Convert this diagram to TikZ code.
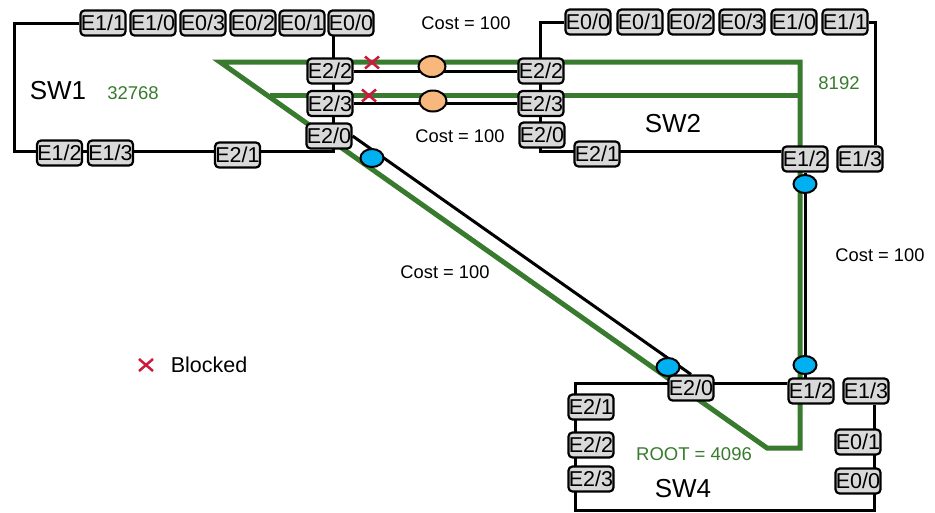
\documentclass[tikz,border=0pt]{standalone}
\usepackage{fontspec}
\setmainfont{Liberation Sans}
\usetikzlibrary{shapes.geometric,backgrounds}
\definecolor{stpgreen}{RGB}{56,122,46}
\definecolor{portfill}{RGB}{217,217,217}
\definecolor{bluedot}{RGB}{0,176,240}
\definecolor{orangedot}{RGB}{248,183,125}
\definecolor{blockred}{RGB}{205,25,60}
\begin{document}
\begin{tikzpicture}[x=1pt,y=-1pt,
  port/.style={draw=black, line width=2.2pt, fill=portfill, rounded corners=4pt,
    minimum width=45pt, minimum height=25pt, inner sep=0pt,
    font=\fontsize{21.5}{21.5}\selectfont},
  wire/.style={line width=3pt, draw=black},
  stp/.style={line width=5pt, draw=stpgreen},
  bdot/.style={ellipse, draw=black, line width=2pt, fill=bluedot,
    minimum width=23pt, minimum height=18pt, inner sep=0pt},
  odot/.style={ellipse, draw=black, line width=2pt, fill=orangedot,
    minimum width=27pt, minimum height=21pt, inner sep=0pt},
  swlabel/.style={font=\fontsize{26}{26}\selectfont},
  costlabel/.style={font=\fontsize{18.3}{18.3}\selectfont},
  prio/.style={text=stpgreen, font=\fontsize{18.5}{18.5}\selectfont},
  redx/.pic={\draw[blockred, line width=2.5pt] (-7,-6) -- (7,6) (-7,6) -- (7,-6);}
]
\useasboundingbox (0,0) rectangle (935,512);

% ---------- ports: SW1 ----------
\node[port] (s1e11) at (103,23) {E1/1};
\node[port] (s1e10) at (153,23) {E1/0};
\node[port] (s1e03) at (203,23) {E0/3};
\node[port] (s1e02) at (253,23) {E0/2};
\node[port] (s1e01) at (302,23) {E0/1};
\node[port] (s1e00) at (351,23) {E0/0};
\node[port] (s1e22) at (330,71) {E2/2};
\node[port] (s1e23) at (330,103.5) {E2/3};
\node[port] (s1e20) at (329,136) {E2/0};
\node[port] (s1e12) at (59.5,153) {E1/2};
\node[port] (s1e13) at (110.5,153) {E1/3};
\node[port] (s1e21) at (237.5,155) {E2/1};

% ---------- ports: SW2 ----------
\node[port] (s2e00) at (588,22) {E0/0};
\node[port] (s2e01) at (640,22) {E0/1};
\node[port] (s2e02) at (691,22) {E0/2};
\node[port] (s2e03) at (742,22) {E0/3};
\node[port] (s2e10) at (794,22) {E1/0};
\node[port] (s2e11) at (845,22) {E1/1};
\node[port] (s2e22) at (541,71) {E2/2};
\node[port] (s2e23) at (541,103.5) {E2/3};
\node[port] (s2e20) at (542,135) {E2/0};
\node[port] (s2e21) at (597,154) {E2/1};
\node[port] (s2e12) at (805,159) {E1/2};
\node[port] (s2e13) at (860,159) {E1/3};

% ---------- ports: SW4 ----------
\node[port] (s4e20) at (691,388) {E2/0};
\node[port] (s4e12) at (811,391) {E1/2};
\node[port] (s4e13) at (866,391) {E1/3};
\node[port] (s4e21) at (591,407) {E2/1};
\node[port] (s4e22) at (591,445) {E2/2};
\node[port] (s4e23) at (591,479) {E2/3};
\node[port] (s4e01) at (858,442) {E0/1};
\node[port] (s4e00) at (858,481) {E0/0};

% ---------- corner coordinates ----------
\coordinate (g1) at (220,62);
\coordinate (g2) at (800,62);
\coordinate (g3) at (800,448);
\coordinate (g4) at (767,448);
\coordinate (g5) at (270,95);
\coordinate (g6) at (800,95);
\coordinate (c1a) at (14,23);
\coordinate (c1b) at (14,151);
\coordinate (c1c) at (333,151);
\coordinate (c1d) at (333,23);
\coordinate (c2a) at (540,22);
\coordinate (c2b) at (540,151);
\coordinate (c2c) at (875,22);
\coordinate (c4a) at (575,383);
\coordinate (c4b) at (575,510);
\coordinate (c4c) at (874,510);
\coordinate (l1) at (s2e12 |- s4e12);

\begin{scope}[on background layer]
  % spanning tree (green)
  \draw[stp] (g1) -- (g2) -- (g3) -- (g4) -- cycle;
  \draw[stp] (g5) -- (g6);
  % switch outlines
  \draw[wire] (s1e11.west) -- (c1a) -- (c1b) -- (c1c) -- (c1d);
  \draw[wire] (s2e00.west) -- (c2a) -- (c2b) -- (c2b -| s2e12.west);
  \draw[wire] (s2e11.east) -- (c2c) -- (c2c |- s2e13.north);
  \draw[wire] (s4e12.west |- c4a) -- (c4a) -- (c4b) -- (c4c) -- (c4c |- s4e13.south);
  % links
  \draw[wire] (s1e22) -- (s2e22);
  \draw[wire] (s1e23) -- (s2e23);
  \draw[wire] (s1e20.east) -- (s4e20.north);
  \draw[wire] (s2e12) -- (l1);
\end{scope}

% ---------- link markers ----------
\node[odot] (o1) at (432,66.5) {};
\node[odot] (o2) at (433,101) {};
\node[bdot] (b1) at (372,158) {};
\node[bdot] (b2) at (668,367) {};
\node[bdot] (b3) at (805,184) {};
\node[bdot] (b4) at (805,365) {};

\pic at (372,62.5) {redx};
\pic at (369,95.5) {redx};

% ---------- labels ----------
\node[swlabel] (sw1) at (58,91) {SW1};
\node[swlabel] (sw2) at (673,124) {SW2};
\node[swlabel] (sw4) at (683,489) {SW4};
\node[prio] (p1) at (133,93) {32768};
\node[prio] (p2) at (839,83) {8192};
\node[prio] (p4) at (694,454) {ROOT = 4096};
\node[costlabel] (k1) at (466,23.5) {Cost = 100};
\node[costlabel] (k2) at (460,136.5) {Cost = 100};
\node[costlabel] (k3) at (445,272.5) {Cost = 100};
\node[costlabel] (k4) at (880,255) {Cost = 100};

% legend
\pic at (146,365) {redx};
\node[font=\fontsize{21.5}{21.5}\selectfont] (blk) at (209,365) {Blocked};
\end{tikzpicture}
\end{document}
